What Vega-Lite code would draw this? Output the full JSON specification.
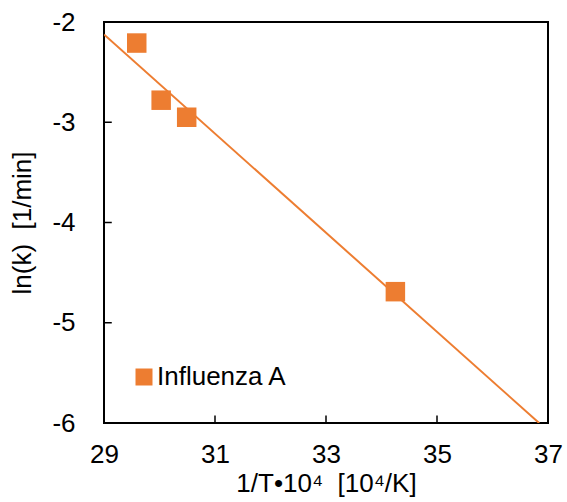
{
  "$schema": "https://vega.github.io/schema/vega-lite/v6.json",
  "width": 444,
  "height": 401,
  "autosize": "none",
  "padding": {"left": 104, "top": 22, "right": 19, "bottom": 79},
  "background": "white",
  "config": {
    "font": "Liberation Sans",
    "view": {"stroke": "black", "strokeWidth": 2},
    "axis": {
      "grid": false,
      "domain": false,
      "ticks": true,
      "tickOpacity": 0,
      "tickSize": 7,
      "offset": -7,
      "labelFontSize": 26,
      "labelColor": "black",
      "labelFlush": false,
      "labelOverlap": false,
      "titleFontSize": 26,
      "titleFontWeight": "normal",
      "titleColor": "black"
    }
  },
  "datasets": {
    "points": [
      {"invT": 29.59, "lnk": -2.21, "series": "Influenza A"},
      {"invT": 30.03, "lnk": -2.78, "series": "Influenza A"},
      {"invT": 30.49, "lnk": -2.95, "series": "Influenza A"},
      {"invT": 34.25, "lnk": -4.69, "series": "Influenza A"}
    ],
    "fit": [
      {"invT": 29.0, "lnk": -2.125},
      {"invT": 36.84, "lnk": -6.0}
    ],
    "xticks": [
      {"invT": 31, "lnk": -6, "lnk2": -5.925},
      {"invT": 33, "lnk": -6, "lnk2": -5.925},
      {"invT": 35, "lnk": -6, "lnk2": -5.925}
    ],
    "yticks": [
      {"lnk": -5, "invT": 29, "invT2": 29.14},
      {"lnk": -4, "invT": 29, "invT2": 29.14},
      {"lnk": -3, "invT": 29, "invT2": 29.14}
    ]
  },
  "encoding": {
    "x": {
      "field": "invT",
      "type": "quantitative",
      "scale": {"domain": [29, 37], "nice": false, "zero": false},
      "axis": {
        "values": [29, 31, 33, 35, 37],
        "title": "1/T•10⁴\u00a0\u00a0[10⁴/K]",
        "labelPadding": 18,
        "titlePadding": 3
      }
    },
    "y": {
      "field": "lnk",
      "type": "quantitative",
      "scale": {"domain": [-6, -2], "nice": false, "zero": false},
      "axis": {
        "values": [-6, -5, -4, -3, -2],
        "labelExpr": "replace(datum.label, '\u2212', '-')",
        "title": "ln(k)\u00a0\u00a0[1/min]",
        "labelPadding": 29,
        "titlePadding": 16
      }
    }
  },
  "layer": [
    {
      "data": {"name": "xticks"},
      "mark": {"type": "rule", "color": "black", "strokeWidth": 1.5},
      "encoding": {"y2": {"field": "lnk2"}}
    },
    {
      "data": {"name": "yticks"},
      "mark": {"type": "rule", "color": "black", "strokeWidth": 1.5},
      "encoding": {"x2": {"field": "invT2"}}
    },
    {
      "data": {"name": "fit"},
      "mark": {"type": "line", "color": "#ED7D31", "strokeWidth": 2, "clip": true}
    },
    {
      "data": {"name": "points"},
      "mark": {"type": "point", "shape": "square", "filled": true, "size": 380, "opacity": 1},
      "encoding": {
        "color": {
          "field": "series",
          "type": "nominal",
          "scale": {"range": ["#ED7D31"]},
          "legend": {
            "title": null,
            "orient": "none",
            "legendX": 27,
            "legendY": 342,
            "symbolType": "square",
            "symbolSize": 289,
            "symbolStrokeWidth": 0,
            "symbolOpacity": 1,
            "labelFontSize": 26,
            "labelColor": "black",
            "labelOffset": 0
          }
        }
      }
    }
  ]
}
